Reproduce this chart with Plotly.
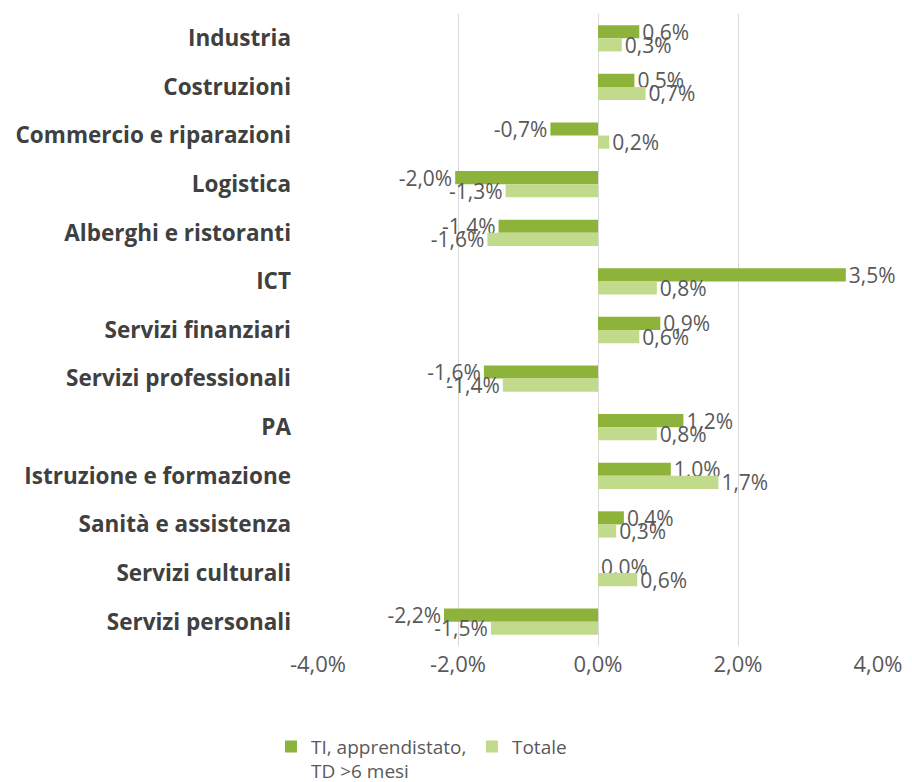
import plotly.graph_objects as go

categories = ["Industria", "Costruzioni", "Commercio e riparazioni", "Logistica",
              "Alberghi e ristoranti", "ICT", "Servizi finanziari",
              "Servizi professionali", "PA", "Istruzione e formazione",
              "Sanità e assistenza", "Servizi culturali", "Servizi personali"]

ti_values = [0.59, 0.52, -0.68, -2.04, -1.42, 3.54, 0.89, -1.63, 1.22, 1.04, 0.37, 0.0, -2.2]
totale_values = [0.34, 0.68, 0.16, -1.32, -1.58, 0.84, 0.59, -1.36, 0.84, 1.72, 0.26, 0.56, -1.53]

series_names = ["TI, apprendistato,<br>TD >6 mesi", "Totale"]
x_ticks = [-4, -2, 0, 2, 4]
x_ticktext = ["-4,0%", "-2,0%", "0,0%", "2,0%", "4,0%"]


def fmt(v):
    return f"{v:.1f}".replace(".", ",") + "%"


DARK = "#8db33a"
LIGHT = "#c2da8c"
FONT = "Open Sans"

fig = go.Figure()
for name, vals, col in [(series_names[0], ti_values, DARK), (series_names[1], totale_values, LIGHT)]:
    fig.add_trace(go.Bar(
        y=categories, x=vals, orientation="h", name=name,
        marker=dict(color=col, line=dict(width=0)),
        text=[fmt(v) for v in vals], textposition="outside",
        textfont=dict(family=FONT, size=21, color="#595959"),
        constraintext="none", cliponaxis=False,
    ))

fig.update_layout(
    width=912, height=782,
    margin=dict(l=310, r=42, t=6, b=144, autoexpand=False),
    paper_bgcolor="white", plot_bgcolor="white",
    barmode="group", bargap=0.46, bargroupgap=0,
    font=dict(family=FONT, color="#595959"),
    showlegend=True,
    legend=dict(orientation="h", x=-0.084, y=-0.129, xanchor="left", yanchor="top",
                font=dict(family=FONT, size=19, color="#595959"),
                entrywidth=156, entrywidthmode="pixels", valign="top",
                traceorder="normal"),
)
fig.update_xaxes(range=[-4, 4], tickvals=x_ticks, ticktext=x_ticktext,
                 showgrid=True, gridcolor="#d9d9d9", gridwidth=1,
                 zeroline=True, zerolinecolor="#d9d9d9", zerolinewidth=1,
                 showline=False, ticks="",
                 tickfont=dict(family=FONT, size=22, color="#595959"),
                 ticklabelstandoff=3)
fig.update_yaxes(autorange="reversed", showgrid=False, showline=False, ticks="",
                 tickfont=dict(family=FONT, size=22.5, color="#404040", weight="bold"),
                 ticklabelstandoff=26)

fig.write_html("out.html")
